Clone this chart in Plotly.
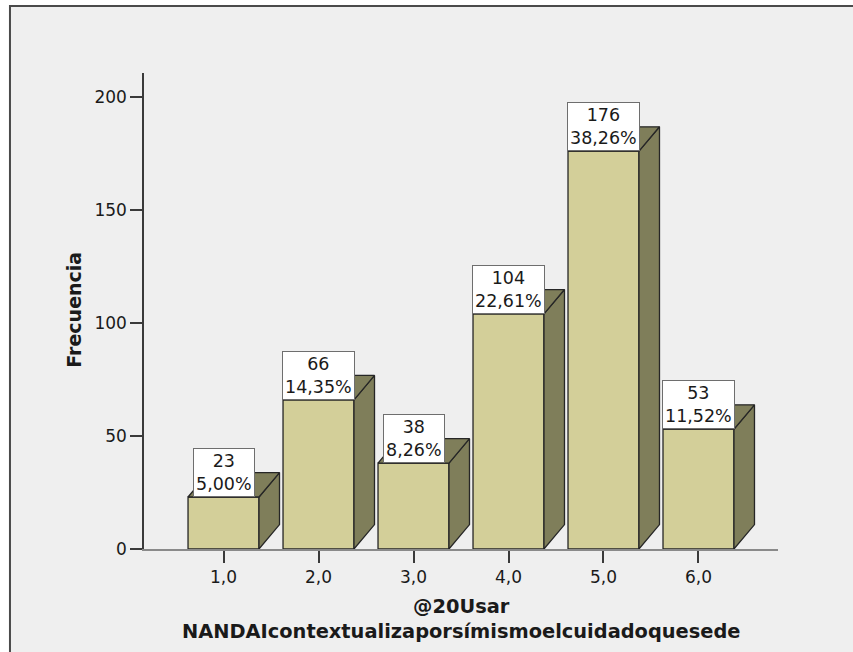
import plotly.graph_objects as go

# Frequency table
categories = [1, 2, 3, 4, 5, 6]
category_labels = ["1,0", "2,0", "3,0", "4,0", "5,0", "6,0"]
counts = [23, 66, 38, 104, 176, 53]
y_ticks = [0, 50, 100, 150, 200]

total = sum(counts)
percent_labels = [f"{c / total * 100:.2f}%".replace(".", ",") for c in counts]

FRONT = "#d3cf99"
SIDE = "#7f7e5a"
EDGE = "#262626"
TXT = "#1a1a1a"
FONT = "DejaVu Sans"

bar_w = 0.747          # front face width (x units)
depth_x = 0.216        # 3-D depth offset (x units)
depth_y = 10.8         # 3-D depth offset (y units)
hw = bar_w / 2

fig = go.Figure()

# front faces
fig.add_trace(go.Bar(
    x=categories, y=counts, width=bar_w,
    marker=dict(color=FRONT, line=dict(color=EDGE, width=1.3)),
    hoverinfo="skip", showlegend=False,
))

# side and top faces
for c, v in zip(categories, counts):
    side_x = [c + hw, c + hw + depth_x, c + hw + depth_x, c + hw, c + hw]
    side_y = [0, depth_y, v + depth_y, v, 0]
    top_x = [c - hw, c - hw + depth_x, c + hw + depth_x, c + hw, c - hw]
    top_y = [v, v + depth_y, v + depth_y, v, v]
    for px, py in ((side_x, side_y), (top_x, top_y)):
        fig.add_trace(go.Scatter(
            x=px, y=py, mode="lines", fill="toself",
            fillcolor=SIDE, line=dict(color=EDGE, width=1.3),
            hoverinfo="skip", showlegend=False,
        ))

# value labels
for c, v, p in zip(categories, counts, percent_labels):
    fig.add_annotation(
        x=c, y=v, xref="x", yref="y",
        text=f"{v}<br>{p}", showarrow=False,
        xanchor="center", yanchor="bottom",
        font=dict(family=FONT, size=17.5, color=TXT),
        bgcolor="white", bordercolor="#6e6e6e", borderwidth=1, borderpad=2,
    )

# axis titles
fig.add_annotation(
    x=-0.111, y=0.502, xref="paper", yref="paper",
    text="<b>Frecuencia</b>", textangle=-90, showarrow=False,
    xanchor="center", yanchor="middle",
    font=dict(family=FONT, size=19, color=TXT),
)
fig.add_annotation(
    x=0.5, y=-0.147, xref="paper", yref="paper",
    text="<b>@20Usar</b><br><b>NANDAIcontextualizaporsímismoelcuidadoquesede</b>",
    showarrow=False, xanchor="center", yanchor="middle",
    font=dict(family=FONT, size=19.4, color=TXT),
)

# chart frame
fig.add_shape(
    type="rect", xref="paper", yref="paper", layer="below",
    x0=-0.2114, x1=1.3, y0=-0.4, y1=1.1408,
    fillcolor="#efefef", line=dict(color="#4a4a4a", width=2),
)

fig.update_layout(
    width=853, height=652,
    margin=dict(l=144, r=75, t=73, b=103),
    paper_bgcolor="white", plot_bgcolor="rgba(0,0,0,0)",
    showlegend=False,
    font=dict(family=FONT, color=TXT),
)
fig.update_xaxes(
    range=[0.163, 6.837], tickvals=categories, ticktext=category_labels,
    ticks="outside", ticklen=12, tickwidth=1.5, tickcolor="#3a3a3a",
    showline=True, linecolor="#8a8a8a", linewidth=1.5,
    showgrid=False, zeroline=False,
    tickfont=dict(family=FONT, size=17, color=TXT),
)
fig.update_yaxes(
    range=[0, 210.6], tickvals=y_ticks,
    ticks="outside", ticklen=12, tickwidth=1.5, tickcolor="#3a3a3a",
    showline=True, linecolor="#3a3a3a", linewidth=1.5,
    showgrid=False, zeroline=False,
    tickfont=dict(family=FONT, size=17, color=TXT),
)

fig.write_html("out.html")
